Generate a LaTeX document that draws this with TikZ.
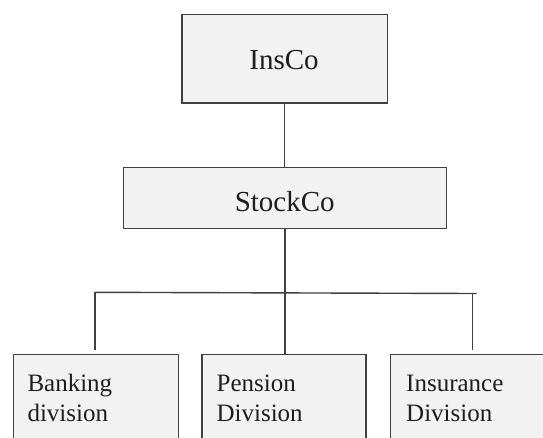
\documentclass[tikz,border=0pt]{standalone}
\usepackage{fontspec}
\setmainfont{Liberation Serif}
\definecolor{linec}{HTML}{404040}
\definecolor{boxfill}{HTML}{F2F2F2}
\definecolor{textc}{HTML}{1E1E1E}
\tikzset{
  box/.style={draw=linec, fill=boxfill, line width=1.4pt, rectangle, inner sep=0pt, anchor=north west},
  conn/.style={draw=linec, line width=1.4pt},
  toplabel/.style={font=\fontsize{29}{34}\selectfont, anchor=base, inner sep=0pt, text=textc},
  divlabel/.style={font=\fontsize{25}{30}\selectfont, anchor=base west, inner sep=0pt, align=left, text=textc}
}
\begin{document}
\begin{tikzpicture}[x=1pt, y=-1pt]
  \clip (0,0) rectangle (543,437);
  \fill[white] (0,0) rectangle (543,437);
  % boxes
  \node[box, minimum width=205.4pt, minimum height=88.3pt] (ins) at (181.3,14) {};
  \node[box, minimum width=323.3pt, minimum height=61.3pt] (stock) at (122.7,166.7) {};
  \node[box, minimum width=165pt, minimum height=120pt] (bank) at (12.7,354) {};
  \node[box, minimum width=164.2pt, minimum height=120pt] (pen) at (201.2,354) {};
  \node[box, minimum width=165pt, minimum height=120pt] (insu) at (390,354) {};
  % labels
  \node[toplabel] (inslab) at (284,69.3) {InsCo};
  \node[toplabel] (stocklab) at (284.7,211) {StockCo};
  \node[divlabel] (banklab) at (27.3,421.7) {Banking\\division};
  \node[divlabel] (penlab) at (216.4,421.7) {Pension\\Division};
  \node[divlabel] (insulab) at (406,421.7) {Insurance\\Division};
  % connectors
  \coordinate (barL) at (95,292.3);
  \coordinate (barR) at (476.7,293.5);
  \coordinate (bankTop) at (95,350);
  \coordinate (insuBar) at (472.7,293.4);
  \coordinate (insuTop) at (472.7,350);
  \draw[conn] (ins.south) -- (ins.south |- stock.north);
  \draw[conn] (stock.south) -- (stock.south |- pen.north);
  \draw[conn] (barL) -- (barR);
  \draw[conn] (barL) -- (bankTop);
  \draw[conn] (insuBar) -- (insuTop);
\end{tikzpicture}
\end{document}
